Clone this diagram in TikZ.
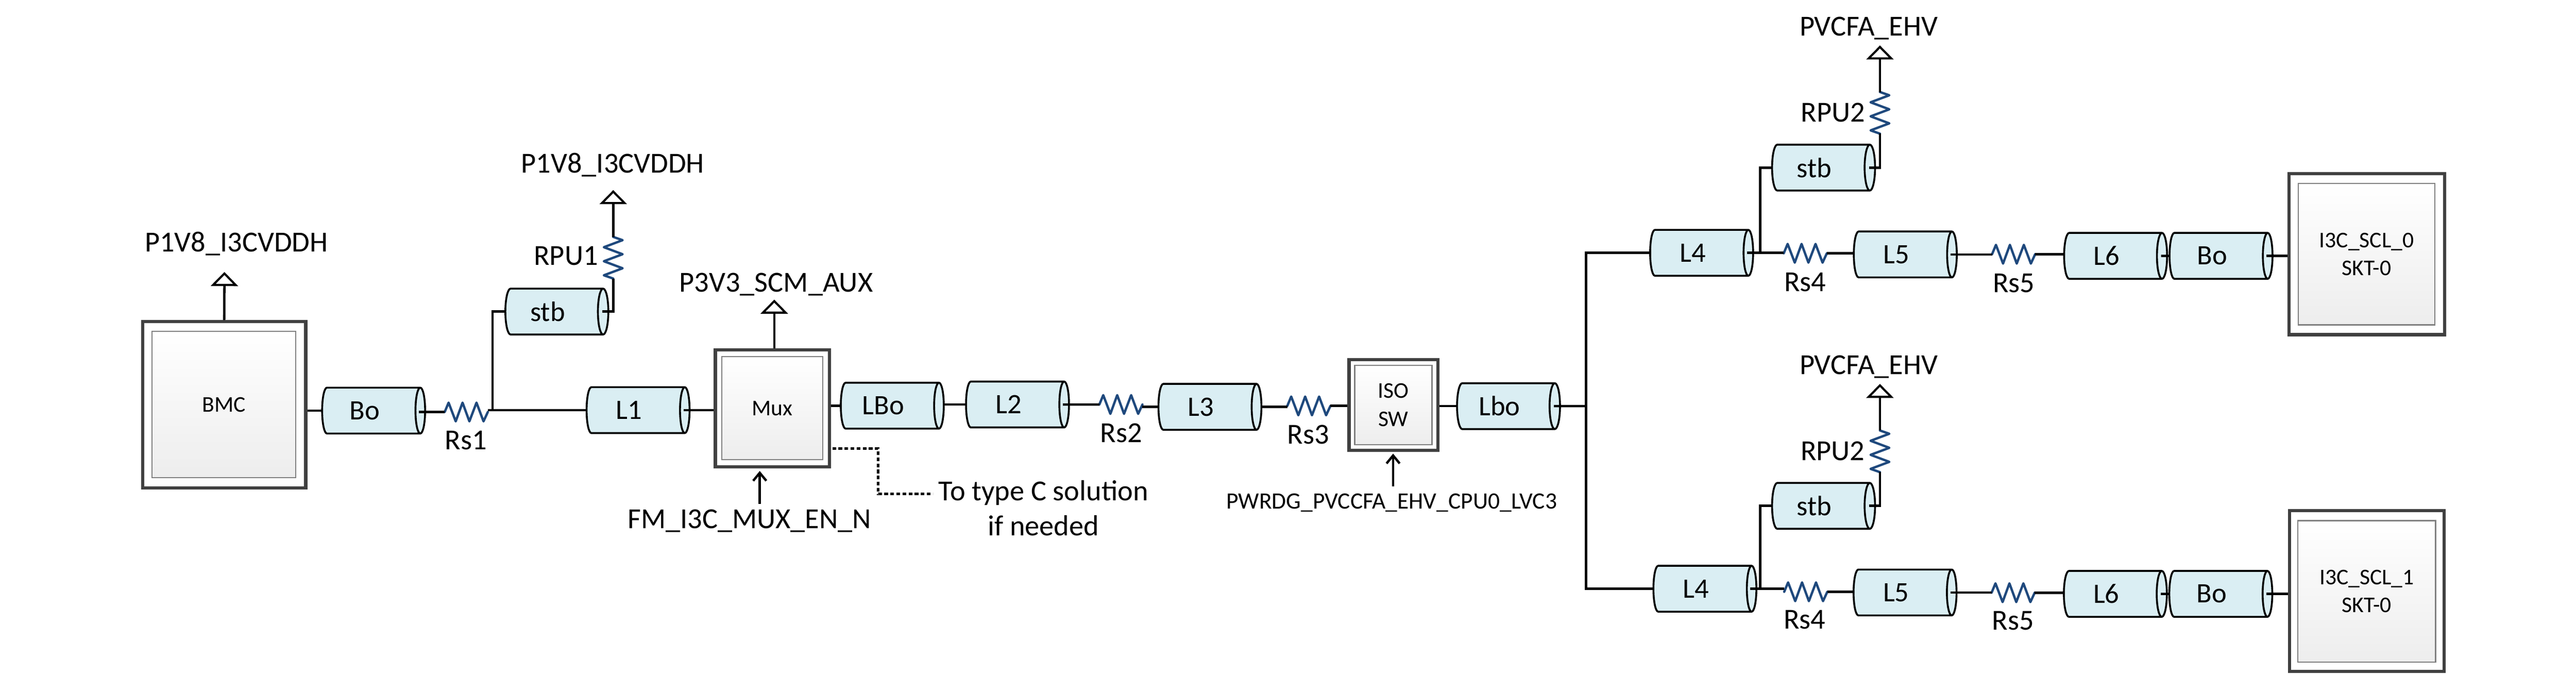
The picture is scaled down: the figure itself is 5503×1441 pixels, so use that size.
\documentclass[tikz,border=0pt]{standalone}
\usepackage{fontspec}
\setmainfont{Carlito}
\usetikzlibrary{shapes.geometric,arrows.meta,calc}
\definecolor{cylfill}{HTML}{DAEEF3}
\definecolor{resblue}{HTML}{1F497D}
\definecolor{boxdark}{HTML}{404040}
\definecolor{boxgray}{HTML}{7F7F7F}
\tikzset{
  wire/.style={draw=black,line width=5pt,line join=miter},
  dotline/.style={draw=black,line width=5pt,dash pattern=on 8pt off 5pt},
  resline/.style={draw=resblue,line width=5pt,line join=round,line cap=round},
  resbox/.style={rectangle,inner sep=0pt,outer sep=0pt},
  lbl/.style={font=\fontsize{62}{75}\selectfont,inner sep=0pt},
  smalllbl/.style={font=\fontsize{50}{60}\selectfont,inner sep=0pt},
  cyl/.style={cylinder,shape aspect=0.53,draw=black,line width=4pt,cylinder uses custom fill,
    cylinder body fill=cylfill,cylinder end fill=cylfill,minimum width=98pt,minimum height=220pt,
    inner sep=0pt,outer sep=0pt,font=\fontsize{60}{70}\selectfont,xshift=-4pt,
    execute at end node={\hspace*{26pt}}},
  outerbox/.style={rectangle,draw=boxdark,fill=white,line width=7pt,inner sep=0pt},
  innerbox/.style={rectangle,draw=boxgray,line width=2.5pt,top color=white,bottom color=black!7,inner sep=0pt,
    align=center,font=\fontsize{48}{60}\selectfont},
  rail/.style={wire,-{Triangle[open,fill=white,length=30pt,width=58pt,line width=4.5pt]}},
  inarrow/.style={wire,-{Straight Barb[length=17pt,width=28pt,line width=5pt]}}
}
\newcommand{\resH}[3]{\node[resbox,minimum width=92pt,minimum height=40pt] (#1) at (#2,#3) {};
  \draw[resline] (#1.west) -- ++(8.3,-20) -- ++(15.2,40) -- ++(14.6,-40) -- ++(14.6,40) -- ++(15.2,-40) -- ++(15,40) -- ++(9.2,-20);}
\newcommand{\resV}[3]{\node[resbox,minimum width=40pt,minimum height=89pt] (#1) at (#2,#3) {};
  \draw[resline] (#1.north) -- ++(20,7) -- ++(-40,15) -- ++(40,15) -- ++(-40,15) -- ++(40,15) -- ++(-40,15) -- ++(20,7);}
\begin{document}
\begin{tikzpicture}[x=1pt,y=-1pt]
\useasboundingbox (0,0) rectangle (5503,1441);
% blocks
\node[outerbox,minimum width=348pt,minimum height=355pt] (bmc) at (479,864.5) {};
\node[innerbox,minimum width=307pt,minimum height=312pt] (bmci) at (478.5,864) {BMC};
\node[outerbox,minimum width=244pt,minimum height=250pt] (mux) at (1650,872) {};
\node[innerbox,minimum width=216pt,minimum height=220pt] (muxi) at (1650,872) {Mux};
\node[outerbox,minimum width=190pt,minimum height=194pt] (iso) at (2977,865) {};
\node[innerbox,minimum width=165pt,minimum height=170pt] (isoi) at (2976.5,865) {ISO\\SW};
\node[outerbox,minimum width=332pt,minimum height=344pt] (skta) at (5056,543) {};
\node[innerbox,minimum width=291pt,minimum height=302pt] (sktai) at (5055.5,543) {I3C\_SCL\_0\\SKT-0};
\node[outerbox,minimum width=330pt,minimum height=343pt] (sktb) at (5056,1262.5) {};
\node[innerbox,minimum width=294pt,minimum height=302pt] (sktbi) at (5056,1263) {I3C\_SCL\_1\\SKT-0};
% cables
\node[cyl] (bo1) at (796,877) {Bo};
\node[cyl] (stb1) at (1187,665.5) {stb};
\node[cyl] (l1) at (1361,876) {L1};
\node[cyl] (lbo1) at (1904,866.5) {LBo};
\node[cyl] (l2) at (2171.5,864) {L2};
\node[cyl] (l3) at (2582.5,869) {L3};
\node[cyl] (lbo2) at (3220,867.5) {Lbo};
\node[cyl] (l4a) at (3633,540) {L4};
\node[cyl] (stba) at (3893,358) {stb};
\node[cyl] (l5a) at (4068,543.5) {L5};
\node[cyl] (l6a) at (4517,546.5) {L6};
\node[cyl] (boa) at (4742.5,546.5) {Bo};
\node[cyl] (l4b) at (3640,1257.5) {L4};
\node[cyl] (stbb) at (3893,1080.5) {stb};
\node[cyl] (l5b) at (4067.5,1265.5) {L5};
\node[cyl] (l6b) at (4516.5,1268.5) {L6};
\node[cyl] (bob) at (4742,1268.5) {Bo};
% resistors
\resH{rs1}{996}{880}
\resH{rs2}{2394.5}{864}
\resH{rs3}{2796}{867}
\resH{rs4a}{3856.5}{541}
\resH{rs5a}{4301.5}{543}
\resH{rs4b}{3857.5}{1264}
\resH{rs5b}{4300.5}{1266}
\resV{rpu1}{1310}{550.5}
\resV{rpu2a}{4016}{241}
\resV{rpu2b}{4016}{964}
% labels
\node[lbl] (railbmc) at (505,521) {P1V8\_I3CVDDH};
\node[lbl] (railpu) at (1309,352) {P1V8\_I3CVDDH};
\node[lbl] (railmux) at (1658,608) {P3V3\_SCM\_AUX};
\node[lbl] (railea) at (3992,61) {PVCFA\_EHV};
\node[lbl] (raileb) at (3992,784) {PVCFA\_EHV};
\node[lbl] (lrpu1) at (1209,547) {RPU1};
\node[lbl] (lrpua) at (3916,240) {RPU2};
\node[lbl] (lrpub) at (3915,964) {RPU2};
\node[lbl] (lrs1) at (995,940) {Rs1};
\node[lbl] (lrs2) at (2395,925) {Rs2};
\node[lbl] (lrs3) at (2795,928) {Rs3};
\node[lbl] (lrs4a) at (3856,603) {Rs4};
\node[lbl] (lrs5a) at (4302,605) {Rs5};
\node[lbl] (lrs4b) at (3855,1324) {Rs4};
\node[lbl] (lrs5b) at (4300,1326) {Rs5};
\node[lbl] (fm) at (1601,1113) {FM\_I3C\_MUX\_EN\_N};
\node[smalllbl] (pwrdg) at (2973,1074) {PWRDG\_PVCCFA\_EHV\_CPU0\_LVC3};
\node[lbl,align=center] (totype) at (2229,1085) {To type C solution\\if needed};
% free ends
\coordinate (tipbmc) at (479.5,581);
\coordinate (tippu) at (1310,406);
\coordinate (tipmux) at (1654,640);
\coordinate (tipea) at (4016,97);
\coordinate (tipeb) at (4016,820);
\coordinate (jn1) at (1052,876);
\coordinate (busT) at (3388,540);
\coordinate (busM) at (3388,867.5);
\coordinate (busB) at (3388,1257.5);
\coordinate (jna) at (3760,540);
\coordinate (jnb) at (3760,1257.5);
\coordinate (muxin) at (1623,1076);
\coordinate (muxtip) at (1623,1006);
\coordinate (isoin) at (2976,1039);
\coordinate (isotip) at (2976,969);
\coordinate (dotA) at (1778,958);
\coordinate (dotB) at (1876,1055);
\coordinate (dotC) at (1993,1055);
% connectors
\draw[wire] (bmc.east |- bo1.west) -- (bo1.west);
\draw[wire] ([xshift=-13pt]bo1.east |- rs1.west) -- (rs1.west);
\draw[wire] (rs1.east |- l1.west) -- (l1.west);
\draw[wire] (jn1) |- (stb1.west);
\draw[wire] ([xshift=-13pt]stb1.east) -| (rpu1.south);
\draw[rail] (rpu1.north) -- (tippu);
\draw[rail] (bmc.north) -- (tipbmc);
\draw[wire] ([xshift=-13pt]l1.east) -- (mux.west |- l1.east);
\draw[rail] (mux.north -| tipmux) -- (tipmux);
\draw[wire] (mux.east |- lbo1.west) -- (lbo1.west);
\draw[wire] (lbo1.east |- l2.west) -- (l2.west);
\draw[wire] ([xshift=-13pt]l2.east) -- (rs2.west);
\draw[wire] (rs2.east |- l3.west) -- (l3.west);
\draw[wire] (l3.east) -- (rs3.west |- l3.east);
\draw[wire] (rs3.east) -- (iso.west |- rs3.east);
\draw[wire] (iso.east |- lbo2.west) -- (lbo2.west);
\draw[wire] ([xshift=-13pt]lbo2.east) -- (busM);
\draw[wire] (l4a.west) -- (busT) -- (busB) -- (l4b.west);
\draw[wire] ([xshift=-13pt]l4a.east) -- (rs4a.west |- l4a.east);
\draw[wire] (rs4a.east) -- (l5a.west |- rs4a.east);
\draw[wire] ([xshift=-13pt]l5a.east) -- (rs5a.west |- l5a.east);
\draw[wire] (rs5a.east) -- (l6a.west |- rs5a.east);
\draw[wire] ([xshift=-13pt]l6a.east) -- (boa.west);
\draw[wire] ([xshift=-13pt]boa.east) -- (skta.west |- boa.east);
\draw[wire] (jna) |- (stba.west);
\draw[wire] ([xshift=-13pt]stba.east) -| (rpu2a.south);
\draw[rail] (rpu2a.north) -- (tipea);
\draw[wire] ([xshift=-13pt]l4b.east) -- (rs4b.west |- l4b.east);
\draw[wire] (rs4b.east) -- (l5b.west |- rs4b.east);
\draw[wire] ([xshift=-13pt]l5b.east) -- (rs5b.west |- l5b.east);
\draw[wire] (rs5b.east) -- (l6b.west |- rs5b.east);
\draw[wire] ([xshift=-13pt]l6b.east) -- (bob.west);
\draw[wire] ([xshift=-13pt]bob.east) -- (sktb.west |- bob.east);
\draw[wire] (jnb) |- (stbb.west);
\draw[wire] ([xshift=-13pt]stbb.east) -| (rpu2b.south);
\draw[rail] (rpu2b.north) -- (tipeb);
\draw[inarrow] (muxin) -- (muxtip);
\draw[inarrow] (isoin) -- (isotip);
\draw[dotline] (dotA) -| (dotB) -- (dotC);
\end{tikzpicture}
\end{document}
